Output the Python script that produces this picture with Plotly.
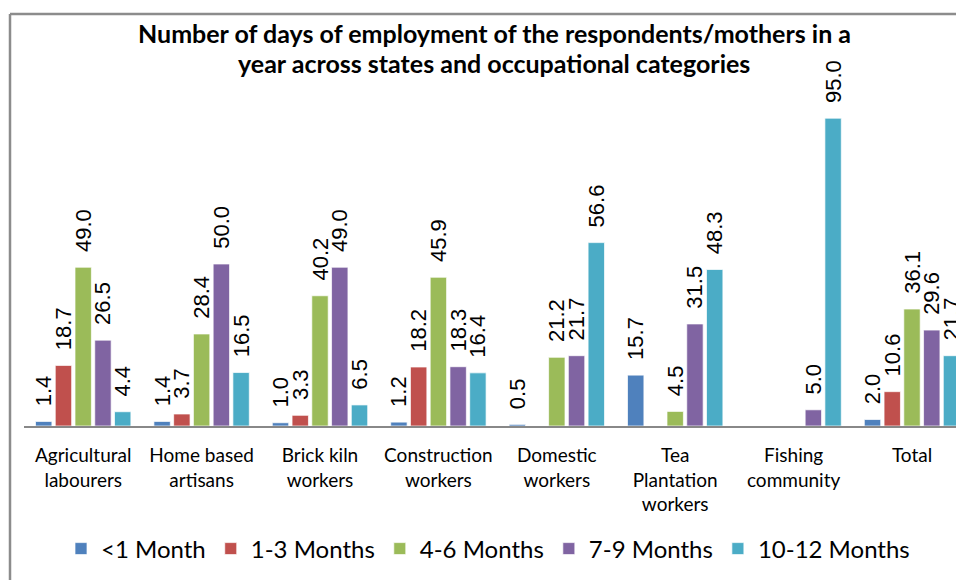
import plotly.graph_objects as go

categories = ["Agricultural<br>labourers", "Home based<br>artisans", "Brick kiln<br>workers",
              "Construction<br>workers", "Domestic<br>workers", "Tea<br>Plantation<br>workers",
              "Fishing<br>community", "Total"]
series_names = ["<1 Month", "1-3 Months", "4-6 Months", "7-9 Months", "10-12 Months"]
lt1_month = [1.4, 1.4, 1.0, 1.2, 0.5, 15.7, None, 2.0]
m1_3 = [18.7, 3.7, 3.3, 18.2, None, None, None, 10.6]
m4_6 = [49.0, 28.4, 40.2, 45.9, 21.2, 4.5, None, 36.1]
m7_9 = [26.5, 50.0, 49.0, 18.3, 21.7, 31.5, 5.0, 29.6]
m10_12 = [4.4, 16.5, 6.5, 16.4, 56.6, 48.3, 95.0, 21.7]
series_values = [lt1_month, m1_3, m4_6, m7_9, m10_12]
colors = ["#4F81BD", "#C0504D", "#9BBB59", "#8064A2", "#4BACC6"]
title_lines = ["Number of days of employment of the respondents/mothers in a",
               "year across states and occupational categories"]

W, H = 956, 580
L, R, T, B = 24, 0, 102, 154
plot_w = W - L - R
plot_h = H - T - B
group_px = 118.4
base_y = T + plot_h

fig = go.Figure()
for name, vals, col in zip(series_names, series_values, colors):
    labels = ["" if v is None else "\u00a0\u00a0" + f"{v:.1f}" for v in vals]
    fig.add_trace(go.Bar(
        name=name, x=categories, y=vals,
        marker=dict(color=col, line=dict(color="rgba(255,255,255,0.7)", width=1)),
        text=labels, textposition="outside", textangle=-90,
        constraintext="none", cliponaxis=False,
        textfont=dict(family="Liberation Sans, Arial", size=22, color="#000000"),
        hoverinfo="skip",
    ))

title_font = dict(family="Lato, Calibri, sans-serif", size=25, color="#000000")
annotations = []
for line, yc in zip(title_lines, [33, 63]):
    annotations.append(dict(
        text="<b>" + line + "</b>", xref="paper", yref="paper",
        x=(494 - L) / plot_w, xanchor="center",
        y=(base_y - yc) / plot_h, yanchor="middle",
        showarrow=False, font=title_font,
    ))

fig.update_layout(
    width=W, height=H,
    margin=dict(l=L, r=R, t=T, b=B, pad=0),
    paper_bgcolor="white", plot_bgcolor="white",
    barmode="group", bargap=0.166, bargroupgap=0.17,
    annotations=annotations,
    xaxis=dict(
        range=[-0.5, -0.5 + plot_w / group_px],
        showline=True, linecolor="#888888", linewidth=2,
        ticks="", showgrid=False, zeroline=False,
        ticklabelstandoff=11,
        tickfont=dict(family="Lato, Calibri, sans-serif", size=19, color="#000000"),
    ),
    yaxis=dict(range=[0, 100], visible=False, showgrid=False, zeroline=False),
    legend=dict(
        orientation="h", x=(488 - L) / plot_w, xanchor="center",
        y=(base_y - 549) / plot_h, yanchor="middle",
        itemwidth=30,
        font=dict(family="Lato, Calibri, sans-serif", size=24, color="#000000"),
        bgcolor="rgba(0,0,0,0)",
    ),
    showlegend=True,
    shapes=[
        dict(type="line", xref="paper", yref="paper",
             x0=(10 - L) / plot_w, x1=(10 - L) / plot_w,
             y0=(base_y - 14) / plot_h, y1=(base_y - 600) / plot_h,
             line=dict(color="#8c8c8c", width=2.5)),
        dict(type="line", xref="paper", yref="paper",
             x0=(10 - L) / plot_w, x1=1.0,
             y0=(base_y - 14) / plot_h, y1=(base_y - 14) / plot_h,
             line=dict(color="#8c8c8c", width=2.5)),
    ],
)

fig.write_html("out.html", config={"displayModeBar": False},
               post_script="document.body.style.margin='0';document.body.style.overflow='hidden';")
